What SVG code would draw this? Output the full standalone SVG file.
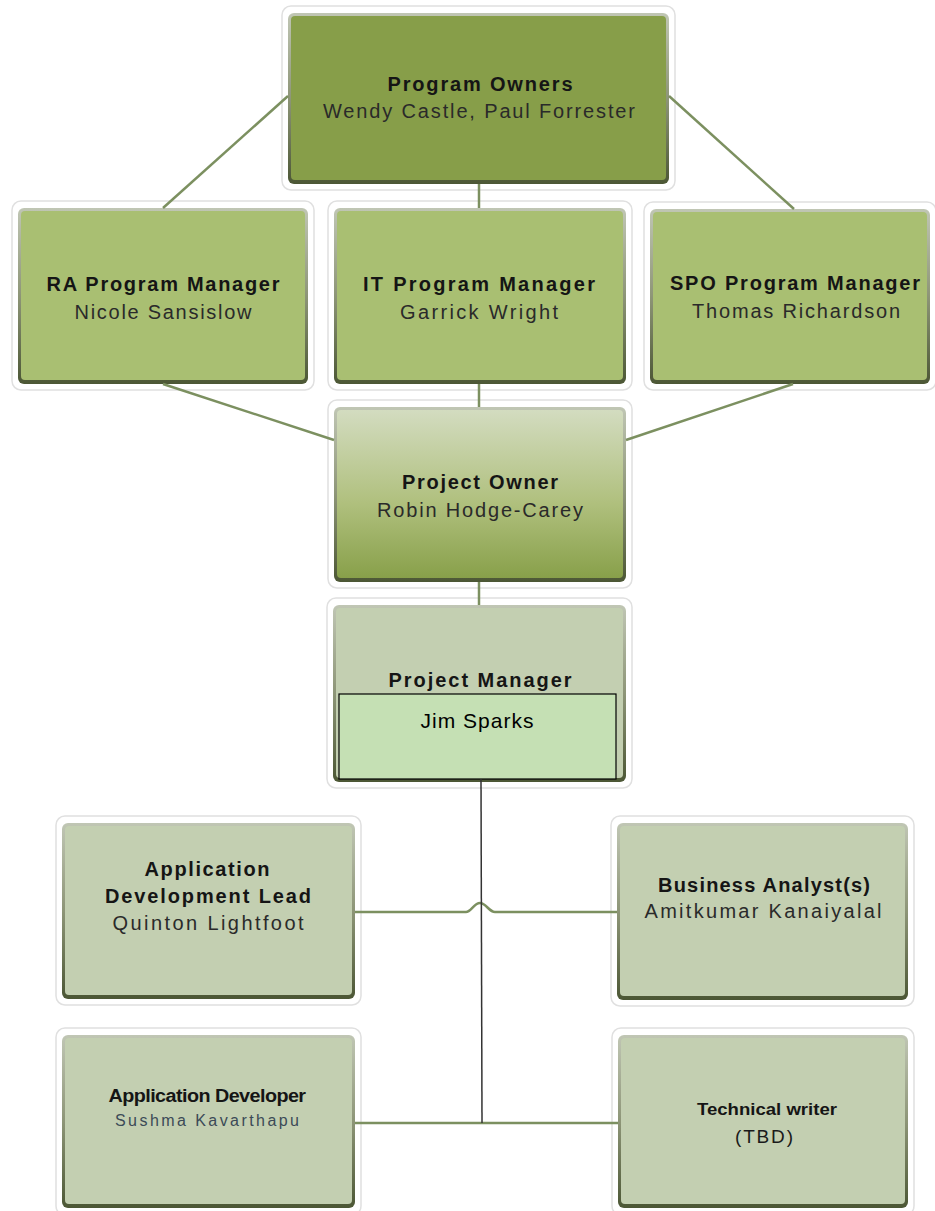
<svg xmlns="http://www.w3.org/2000/svg" width="935" height="1211" viewBox="0 0 935 1211">
<style>
.halo{fill:#ffffff;stroke:#e0e0e0;stroke-width:1.5}
.edge{fill:url(#edge)}
.dark{fill:#879e49}
.mid{fill:#a9bf72}
.light{fill:#c3cfb1}
.t{font-family:"Liberation Sans",Arial,sans-serif;font-size:20px;font-weight:bold;fill:#151515;text-anchor:middle}
.n{font-family:"Liberation Sans",Arial,sans-serif;font-size:20px;fill:#2a2a2a;text-anchor:middle}
.g{fill:none;stroke:#7c9060;stroke-width:2.5}
.k{fill:none;stroke:#333333;stroke-width:1.5}
</style>
<defs>
<linearGradient id="edge" x1="0" y1="0" x2="0" y2="1">
<stop offset="0" stop-color="#c0c6b4"/>
<stop offset="0.5" stop-color="#8d9577"/>
<stop offset="1" stop-color="#4c5735"/>
</linearGradient>
<linearGradient id="poGrad" x1="0" y1="0" x2="0" y2="1">
<stop offset="0" stop-color="#d3dcc0"/>
<stop offset="0.55" stop-color="#b0c07e"/>
<stop offset="1" stop-color="#88a04a"/>
</linearGradient>
</defs>

<g id="program-owners">
<rect class="halo" x="282" y="6" width="393" height="184" rx="9"/>
<rect class="edge" x="288" y="13" width="381" height="171" rx="6"/>
<rect class="dark" x="291" y="16" width="375" height="164" rx="4"/>
<text class="t" x="480" y="91" textLength="185" lengthAdjust="spacing">Program Owners</text>
<text class="n" x="479" y="118" textLength="312" lengthAdjust="spacing">Wendy Castle, Paul Forrester</text>
</g>

<g id="ra-program-manager">
<rect class="halo" x="12" y="201" width="302" height="189" rx="9"/>
<rect class="edge" x="18" y="208" width="290" height="176" rx="6"/>
<rect class="mid" x="21" y="211" width="284" height="169" rx="4"/>
<text class="t" x="163" y="291" textLength="233" lengthAdjust="spacing">RA Program Manager</text>
<text class="n" x="163" y="319" textLength="177" lengthAdjust="spacing">Nicole Sansislow</text>
</g>

<g id="it-program-manager">
<rect class="halo" x="328" y="201" width="304" height="189" rx="9"/>
<rect class="edge" x="334" y="208" width="292" height="176" rx="6"/>
<rect class="mid" x="337" y="211" width="286" height="169" rx="4"/>
<text class="t" x="479" y="291" textLength="232" lengthAdjust="spacing">IT Program Manager</text>
<text class="n" x="479" y="319" textLength="158" lengthAdjust="spacing">Garrick Wright</text>
</g>

<g id="spo-program-manager">
<rect class="halo" x="644" y="202" width="292" height="188" rx="9"/>
<rect class="edge" x="650" y="209" width="280" height="175" rx="6"/>
<rect class="mid" x="653" y="212" width="274" height="168" rx="4"/>
<text class="t" x="795" y="290" textLength="250" lengthAdjust="spacing">SPO Program Manager</text>
<text class="n" x="796" y="318" textLength="208" lengthAdjust="spacing">Thomas Richardson</text>
</g>

<g id="project-owner">
<rect class="halo" x="328" y="400" width="304" height="188" rx="9"/>
<rect class="edge" x="334" y="407" width="292" height="175" rx="6"/>
<rect fill="url(#poGrad)" x="337" y="410" width="286" height="168" rx="4"/>
<text class="t" x="480" y="489" textLength="156" lengthAdjust="spacing">Project Owner</text>
<text class="n" x="480" y="517" textLength="206" lengthAdjust="spacing">Robin Hodge-Carey</text>
</g>

<g id="project-manager">
<rect class="halo" x="327" y="598" width="305" height="190" rx="9"/>
<rect class="edge" x="333" y="605" width="293" height="177" rx="6"/>
<rect class="light" x="336" y="608" width="287" height="170" rx="4"/>
<text class="t" x="480" y="687" textLength="183" lengthAdjust="spacing">Project Manager</text>
<rect x="339" y="694" width="277" height="85" fill="#c5e0b4" stroke="#000000" stroke-width="1.2"/>
<text class="n" x="477" y="728" style="fill:#000000;font-size:21px" textLength="113" lengthAdjust="spacing">Jim Sparks</text>
</g>

<g id="application-development-lead">
<rect class="halo" x="56" y="816" width="305" height="189" rx="9"/>
<rect class="edge" x="62" y="823" width="293" height="176" rx="6"/>
<rect class="light" x="65" y="826" width="287" height="169" rx="4"/>
<text class="t" x="207" y="876" textLength="125" lengthAdjust="spacing">Application</text>
<text class="t" x="208" y="903" textLength="206" lengthAdjust="spacing">Development Lead</text>
<text class="n" x="208" y="930" textLength="191" lengthAdjust="spacing">Quinton Lightfoot</text>
</g>

<g id="business-analysts">
<rect class="halo" x="611" y="816" width="303" height="190" rx="9"/>
<rect class="edge" x="617" y="823" width="291" height="177" rx="6"/>
<rect class="light" x="620" y="826" width="285" height="170" rx="4"/>
<text class="t" x="764" y="892" textLength="212" lengthAdjust="spacing">Business Analyst(s)</text>
<text class="n" x="763" y="918" textLength="237" lengthAdjust="spacing">Amitkumar Kanaiyalal</text>
</g>

<g id="application-developer">
<rect class="halo" x="56" y="1028" width="305" height="187" rx="9"/>
<rect class="edge" x="62" y="1035" width="293" height="173" rx="6"/>
<rect class="light" x="65" y="1038" width="287" height="166" rx="4"/>
<text class="t" x="207" y="1102" style="font-size:18px;letter-spacing:-0.5px" textLength="197" lengthAdjust="spacingAndGlyphs">Application Developer</text>
<text class="n" x="207" y="1126" style="font-size:16px;fill:#3b4a57" textLength="184" lengthAdjust="spacing">Sushma Kavarthapu</text>
</g>

<g id="technical-writer">
<rect class="halo" x="612" y="1028" width="302" height="187" rx="9"/>
<rect class="edge" x="618" y="1035" width="290" height="173" rx="6"/>
<rect class="light" x="621" y="1038" width="284" height="166" rx="4"/>
<text class="t" x="767" y="1115" style="font-size:17px" textLength="140" lengthAdjust="spacingAndGlyphs">Technical writer</text>
<text class="n" x="764" y="1143" style="font-size:19px;fill:#1a1a1a" textLength="58" lengthAdjust="spacing">(TBD)</text>
</g>

<g id="connectors">
<line class="g" x1="479" y1="184" x2="479" y2="208"/>
<line class="g" x1="288" y1="96" x2="163" y2="208"/>
<line class="g" x1="669" y1="96" x2="794" y2="209"/>
<line class="g" x1="163" y1="384" x2="334" y2="440"/>
<line class="g" x1="479" y1="384" x2="479" y2="407"/>
<line class="g" x1="793" y1="384" x2="626" y2="440"/>
<line class="g" x1="479" y1="582" x2="479" y2="605"/>
<path class="g" d="M355,912 H466 C471,912 474,903 480,903 C486,903 489,912 495,912 H617"/>
<line class="g" x1="355" y1="1123" x2="618" y2="1123"/>
<line class="k" x1="481" y1="779" x2="482" y2="1123"/>
</g>
</svg>
